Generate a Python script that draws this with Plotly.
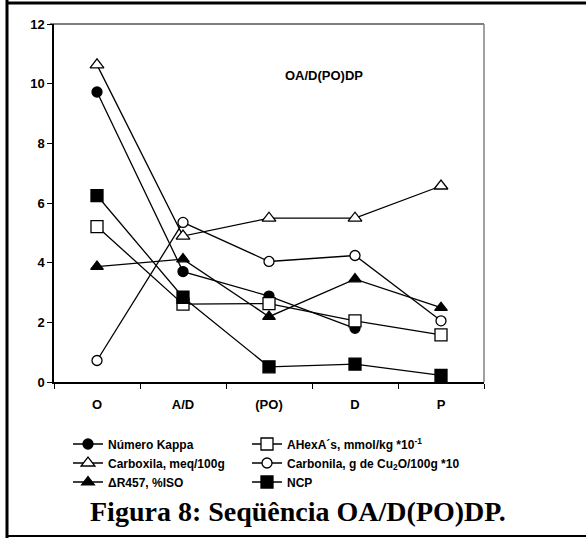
import plotly.graph_objects as go

# ---- data ----
stages = ["O", "A/D", "(PO)", "D", "P"]
kappa = [9.72, 3.70, 2.88, 1.80, None]
ahexa = [5.21, 2.61, 2.63, 2.05, 1.58]
carboxila = [10.63, 4.89, 5.49, 5.49, 6.57]
carbonila = [0.72, 5.35, 4.04, 4.24, 2.05]
dr457 = [3.87, 4.12, 2.19, 3.45, 2.49]
ncp = [6.25, 2.84, 0.51, 0.60, 0.22]

names = ["Número Kappa", "AHexA´s, mmol/kg *10<sup>-1</sup>", "Carboxila, meq/100g",
         "Carbonila, g de Cu<sub>2</sub>O/100g *10", "ΔR457, %ISO", "NCP"]
y_ticks = [0, 2, 4, 6, 8, 10, 12]

W, H = 586, 538
L, R, T, B = 54, 484, 24, 382  # plot area in px


def px_x(px):
    return (px - L) / (R - L)


def px_y(py):
    return (B - py) / (B - T)


FONT = "Liberation Sans Narrow, Arial Narrow, Liberation Sans, Arial, sans-serif"

series = [kappa, ahexa, carboxila, carbonila, dr457, ncp]
symbols = ["circle", "square", "triangle-up", "circle", "triangle-up", "square"]
fills = ["black", "white", "white", "white", "black", "black"]
sizes = [10, 12, 12, 10, 11, 12]
legends = ["legend", "legend2", "legend", "legend2", "legend", "legend2"]

fig = go.Figure()
for vals, nm, sym, fc, sz, lg in zip(series, names, symbols, fills, sizes, legends):
    fig.add_trace(go.Scatter(
        x=stages, y=vals, name=nm, mode="lines+markers",
        line=dict(color="black", width=1.3),
        marker=dict(symbol=sym, size=sz, color=fc, line=dict(color="black", width=1.3)),
        legend=lg, connectgaps=False,
    ))

leg_common = dict(orientation="v",
                  font=dict(family=FONT, size=12, color="black", weight="bold"),
                  bgcolor="rgba(0,0,0,0)", xanchor="left", yanchor="middle",
                  itemclick=False, tracegroupgap=0)
fig.update_layout(
    legend=dict(x=px_x(68), y=px_y(463), **leg_common),
    legend2=dict(x=px_x(247), y=px_y(463), **leg_common),
)

fig.update_layout(
    width=W, height=H,
    margin=dict(l=L, r=W - R, t=T, b=H - B, autoexpand=False),
    paper_bgcolor="white", plot_bgcolor="white",
    font=dict(family=FONT, size=12, color="black"),
    xaxis=dict(type="category", range=[-0.5, 4.5], tickson="boundaries",
               ticks="outside", ticklen=5, tickcolor="black", showgrid=False,
               showline=True, linecolor="black", linewidth=1.5, mirror=False,
               tickfont=dict(family=FONT, size=13, color="black", weight="bold"),
               ticklabelstandoff=10, zeroline=False),
    yaxis=dict(range=[0, 12], tickvals=y_ticks, ticks="outside", ticklen=5,
               tickcolor="black", showgrid=False, showline=True, linecolor="black",
               linewidth=1.5, zeroline=False,
               tickfont=dict(family=FONT, size=13, color="black", weight="bold")),
)

shapes = [
    # plot area top and right border
    dict(type="line", xref="paper", yref="paper", x0=px_x(50), x1=1, y0=1, y1=1,
         line=dict(color="black", width=1.2)),
    dict(type="line", xref="paper", yref="paper", x0=1, x1=1, y0=0, y1=1,
         line=dict(color="#808080", width=1.5)),
    # outer frame
    dict(type="line", xref="paper", yref="paper", x0=px_x(6), x1=px_x(W), y0=px_y(3), y1=px_y(3),
         line=dict(color="black", width=3)),
    dict(type="line", xref="paper", yref="paper", x0=px_x(7), x1=px_x(7), y0=px_y(0), y1=px_y(H),
         line=dict(color="black", width=3)),
    dict(type="line", xref="paper", yref="paper", x0=px_x(6), x1=px_x(W), y0=px_y(536), y1=px_y(536),
         line=dict(color="black", width=2)),
]
fig.update_layout(shapes=shapes)

fig.add_annotation(text="<b>OA/D(PO)DP</b>", xref="paper", yref="paper",
                   x=px_x(324), y=px_y(75), xanchor="center", yanchor="middle", showarrow=False,
                   font=dict(family=FONT, size=13, color="black"))
fig.add_annotation(text="<b>Figura 8: Seqüência OA/D(PO)DP.</b>", xref="paper", yref="paper",
                   x=px_x(298), y=px_y(511), xanchor="center", yanchor="middle", showarrow=False,
                   font=dict(family="Liberation Serif, Times New Roman, serif", size=28, color="black"))

fig.write_html("out.html", config={"displayModeBar": False},
               post_script="document.body.style.margin='0px';")
